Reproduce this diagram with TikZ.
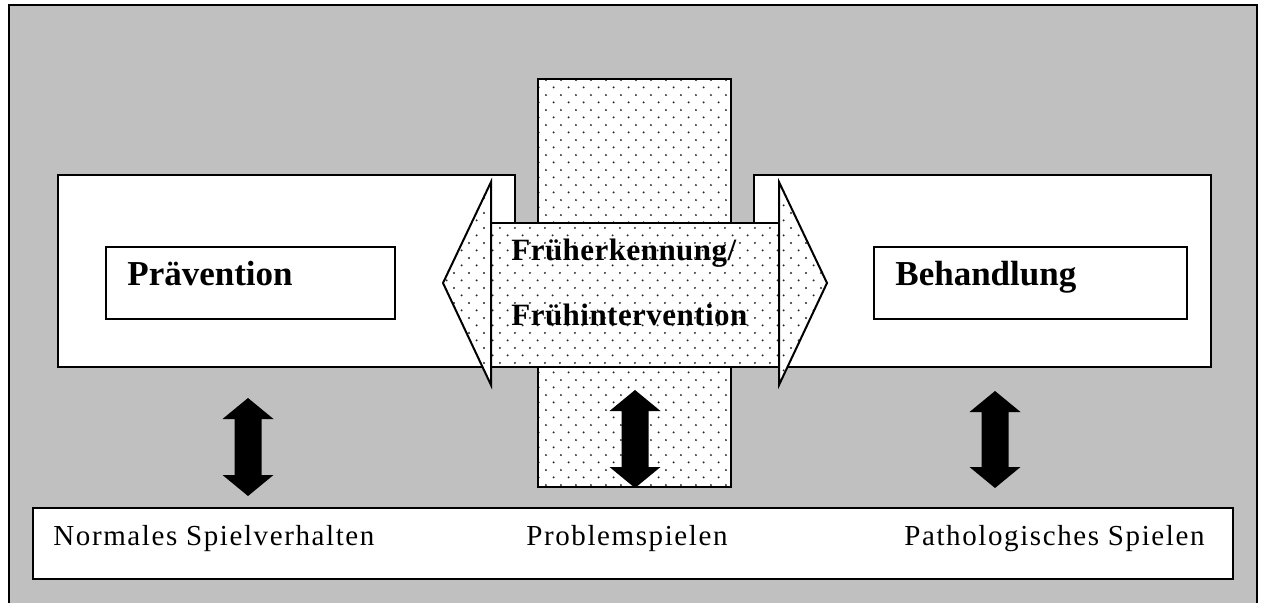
\documentclass[tikz,border=0pt]{standalone}
\usepackage{fontspec}
\setmainfont{Liberation Serif}
\newfontfamily\spaced[LetterSpace=5.5]{Liberation Serif}
\newfontfamily\tight[LetterSpace=1.5]{Liberation Serif}
\usetikzlibrary{patterns}

\definecolor{bggray}{HTML}{C0C0C0}

% staggered sparse dots as in the original fill
\pgfdeclarepatternformonly{sparse dots}{\pgfqpoint{0pt}{0pt}}{\pgfqpoint{7.65pt}{7.65pt}}{\pgfqpoint{7.65pt}{7.65pt}}{%
  \pgfpathcircle{\pgfqpoint{1.9pt}{1.9pt}}{0.55pt}%
  \pgfpathcircle{\pgfqpoint{5.725pt}{5.725pt}}{0.55pt}%
  \pgfusepath{fill}}

\begin{document}
\begin{tikzpicture}[
    x=0.5pt, y=-0.5pt,
    frame/.style={draw, line width=1pt, fill=bggray},
    box/.style={draw, line width=1pt, fill=white},
    dotbox/.style={draw, line width=1pt, preaction={fill=white},
    pattern=sparse dots, pattern color=black!85},
    head/.style={inner sep=0pt, anchor=base west,
    font=\fontsize{17.5pt}{20pt}\selectfont\bfseries},
    midtext/.style={inner sep=0pt, anchor=base west,
    font=\fontsize{15.5pt}{18pt}\tight\bfseries},
    stage/.style={inner sep=0pt, anchor=base west,
    font=\fontsize{14.5pt}{17pt}\spaced}
    ]
    \useasboundingbox (0,0) rectangle (1261,603);
    \path[frame] (9,5) rectangle (1257,612);

    % upper boxes
    \path[box] (58,175)  rectangle (515,367);
    \path[box] (754,175) rectangle (1211,367);
    \path[box] (106,247) rectangle (395,319);
    \path[box] (874,247) rectangle (1187,319);
    \node[head] (praev) at (127,286) {Prävention};
    \node[head] (behand) at (895,286) {Behandlung};

    % middle column
    \path[dotbox] (538,79) rectangle (731,487);

    % bottom strip
    \path[box] (33,508) rectangle (1233,579);
    \node[stage] (normal)  at (53,545)  {Normales Spielverhalten};
    \node[stage] (problem) at (526,545) {Problemspielen};
    \node[stage] (patho)   at (904,545) {Pathologisches Spielen};

    % up/down arrows
    \foreach \xa/\ya/\yb in {248/398/496, 635/390/488, 995/391/488}
      \fill (\xa-13.5,\ya+21) -- (\xa-25.5,\ya+21) -- (\xa,\ya)
        -- (\xa+25.5,\ya+21) -- (\xa+13.5,\ya+21) -- (\xa+13.5,\yb-21)
        -- (\xa+25.5,\yb-21) -- (\xa,\yb) -- (\xa-25.5,\yb-21)
        -- (\xa-13.5,\yb-21) -- cycle;

    % wide double arrow
    \path[dotbox] (491,223) rectangle (779,367);
    \path[dotbox] (491,182) -- (443,283) -- (491,385) -- cycle;
    \path[dotbox] (779,182) -- (827,283) -- (779,385) -- cycle;
    \node[midtext] (frueh1) at (511,261) {Früherkennung/};
    \node[midtext] (frueh2) at (511,326) {Frühintervention};
  \end{tikzpicture}
\end{document}
